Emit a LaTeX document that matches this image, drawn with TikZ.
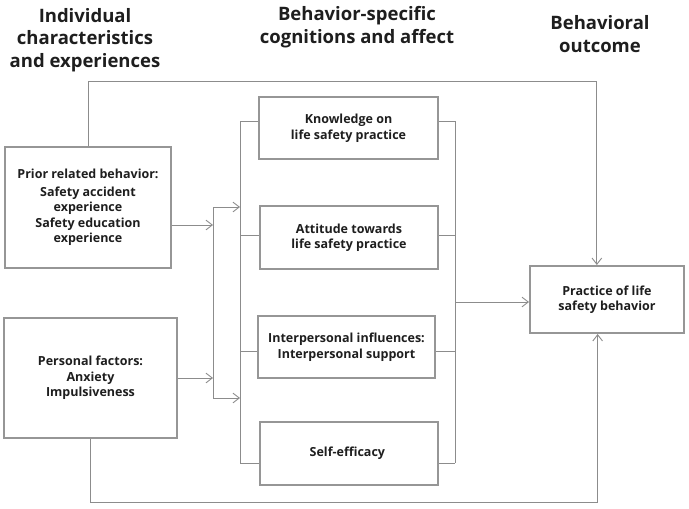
\documentclass[tikz,border=0pt]{standalone}
\usepackage{fontspec}
\setmainfont{Open Sans}
\usetikzlibrary{positioning,arrows.meta,calc}
\definecolor{LineGray}{RGB}{140,140,140}
\definecolor{BoxGray}{RGB}{150,150,150}
\definecolor{InkDark}{RGB}{30,30,30}
\tikzset{
  flow/.style={-{Straight Barb[length=2.2mm,width=3.4mm]},draw=LineGray,line width=0.9pt},
  link/.style={draw=LineGray,line width=0.9pt},
  box/.style={draw=BoxGray,line width=2pt,fill=white,align=center,text=InkDark,
    font=\fontsize{12.5}{15.5}\selectfont\bfseries,inner sep=0pt},
  head/.style={align=center,text=InkDark,font=\fontsize{18.5}{22.5}\selectfont\bfseries}
}

\begin{document}
\begin{tikzpicture}[x=1pt,y=-1pt]
  \useasboundingbox (0,0) rectangle (689,509);

  % column headings
  \node[head] (hindiv) at (85,40) {Individual\\characteristics\\and experiences};
  \node[head] (hcog) at (357,27) {Behavior-specific\\cognitions and affect};
  \node[head] (hout) at (600,34) {Behavioral\\outcome};

  % left column
  \node[box,minimum width=166,minimum height=121] (prior) at (88,207.5) {
    Prior related behavior:\\[2pt]
    Safety accident\\experience\\
    Safety education\\experience
  };
  \node[box,minimum width=173,minimum height=120] (personal) at (90.5,378) {
    Personal factors:\\Anxiety\\Impulsiveness
  };

  % middle column
  \node[box,minimum width=179,minimum height=62] (know) at (348.5,128) {
    Knowledge on\\life safety practice
  };
  \node[box,minimum width=178,minimum height=63] (att) at (349,237.5) {
    Attitude towards\\life safety practice
  };
  \node[box,minimum width=177,minimum height=62] (inter) at (346.5,347) {
    Interpersonal influences:\\Interpersonal support
  };
  \node[box,minimum width=178,minimum height=63] (self) at (349,453.5) {
    Self-efficacy
  };

  % right column
  \node[box,minimum width=154,minimum height=67] (practice) at (607,299.5) {
    Practice of life\\safety behavior
  };

  % junction points
  \coordinate (splitTop) at (213,207);
  \coordinate (splitBot) at (213,398);
  \coordinate (busL) at (240,0);
  \coordinate (busR) at (455,0);
  \coordinate (topline) at (0,81);
  \coordinate (botline) at (0,502);
  \coordinate (pTop) at ($(practice.north west)!0.435!(practice.north east)$);
  \coordinate (pBot) at ($(practice.south west)!0.44!(practice.south east)$);

  % left inputs into the split
  \draw[flow] ($(prior.east)+(0,17.5)$) -- (splitTop |- {$(prior.east)+(0,17.5)$});
  \draw[flow] (personal.east) -- (splitBot |- personal.east);
  \draw[link] (splitTop) -- (splitBot);
  \draw[flow] (splitTop) -- (busL |- splitTop);
  \draw[flow] (splitBot) -- (busL |- splitBot);

  % stubs on both buses
  \foreach \n/\dy in {know/-7,att/-2.5,inter/4,self/9.5}{
    \draw[link] (busL |- {$(\n.west)+(0,\dy)$}) -- ($(\n.west)+(0,\dy)$);
    \draw[link] ($(\n.east)+(0,\dy)$) -- (busR |- {$(\n.east)+(0,\dy)$});
  }
  \draw[link] (busL |- 0,121) -- (busL |- 0,463);
  \draw[link] (busR |- 0,121) -- (busR |- 0,463);
  \draw[flow] (busR |- 0,302) -- (practice.west |- 0,302);

  % direct paths to the outcome
  \draw[flow] (prior.north) |- (pTop |- topline) -- (pTop);
  \draw[flow] (personal.south) |- (pBot |- botline) -- (pBot);
\end{tikzpicture}
\end{document}
